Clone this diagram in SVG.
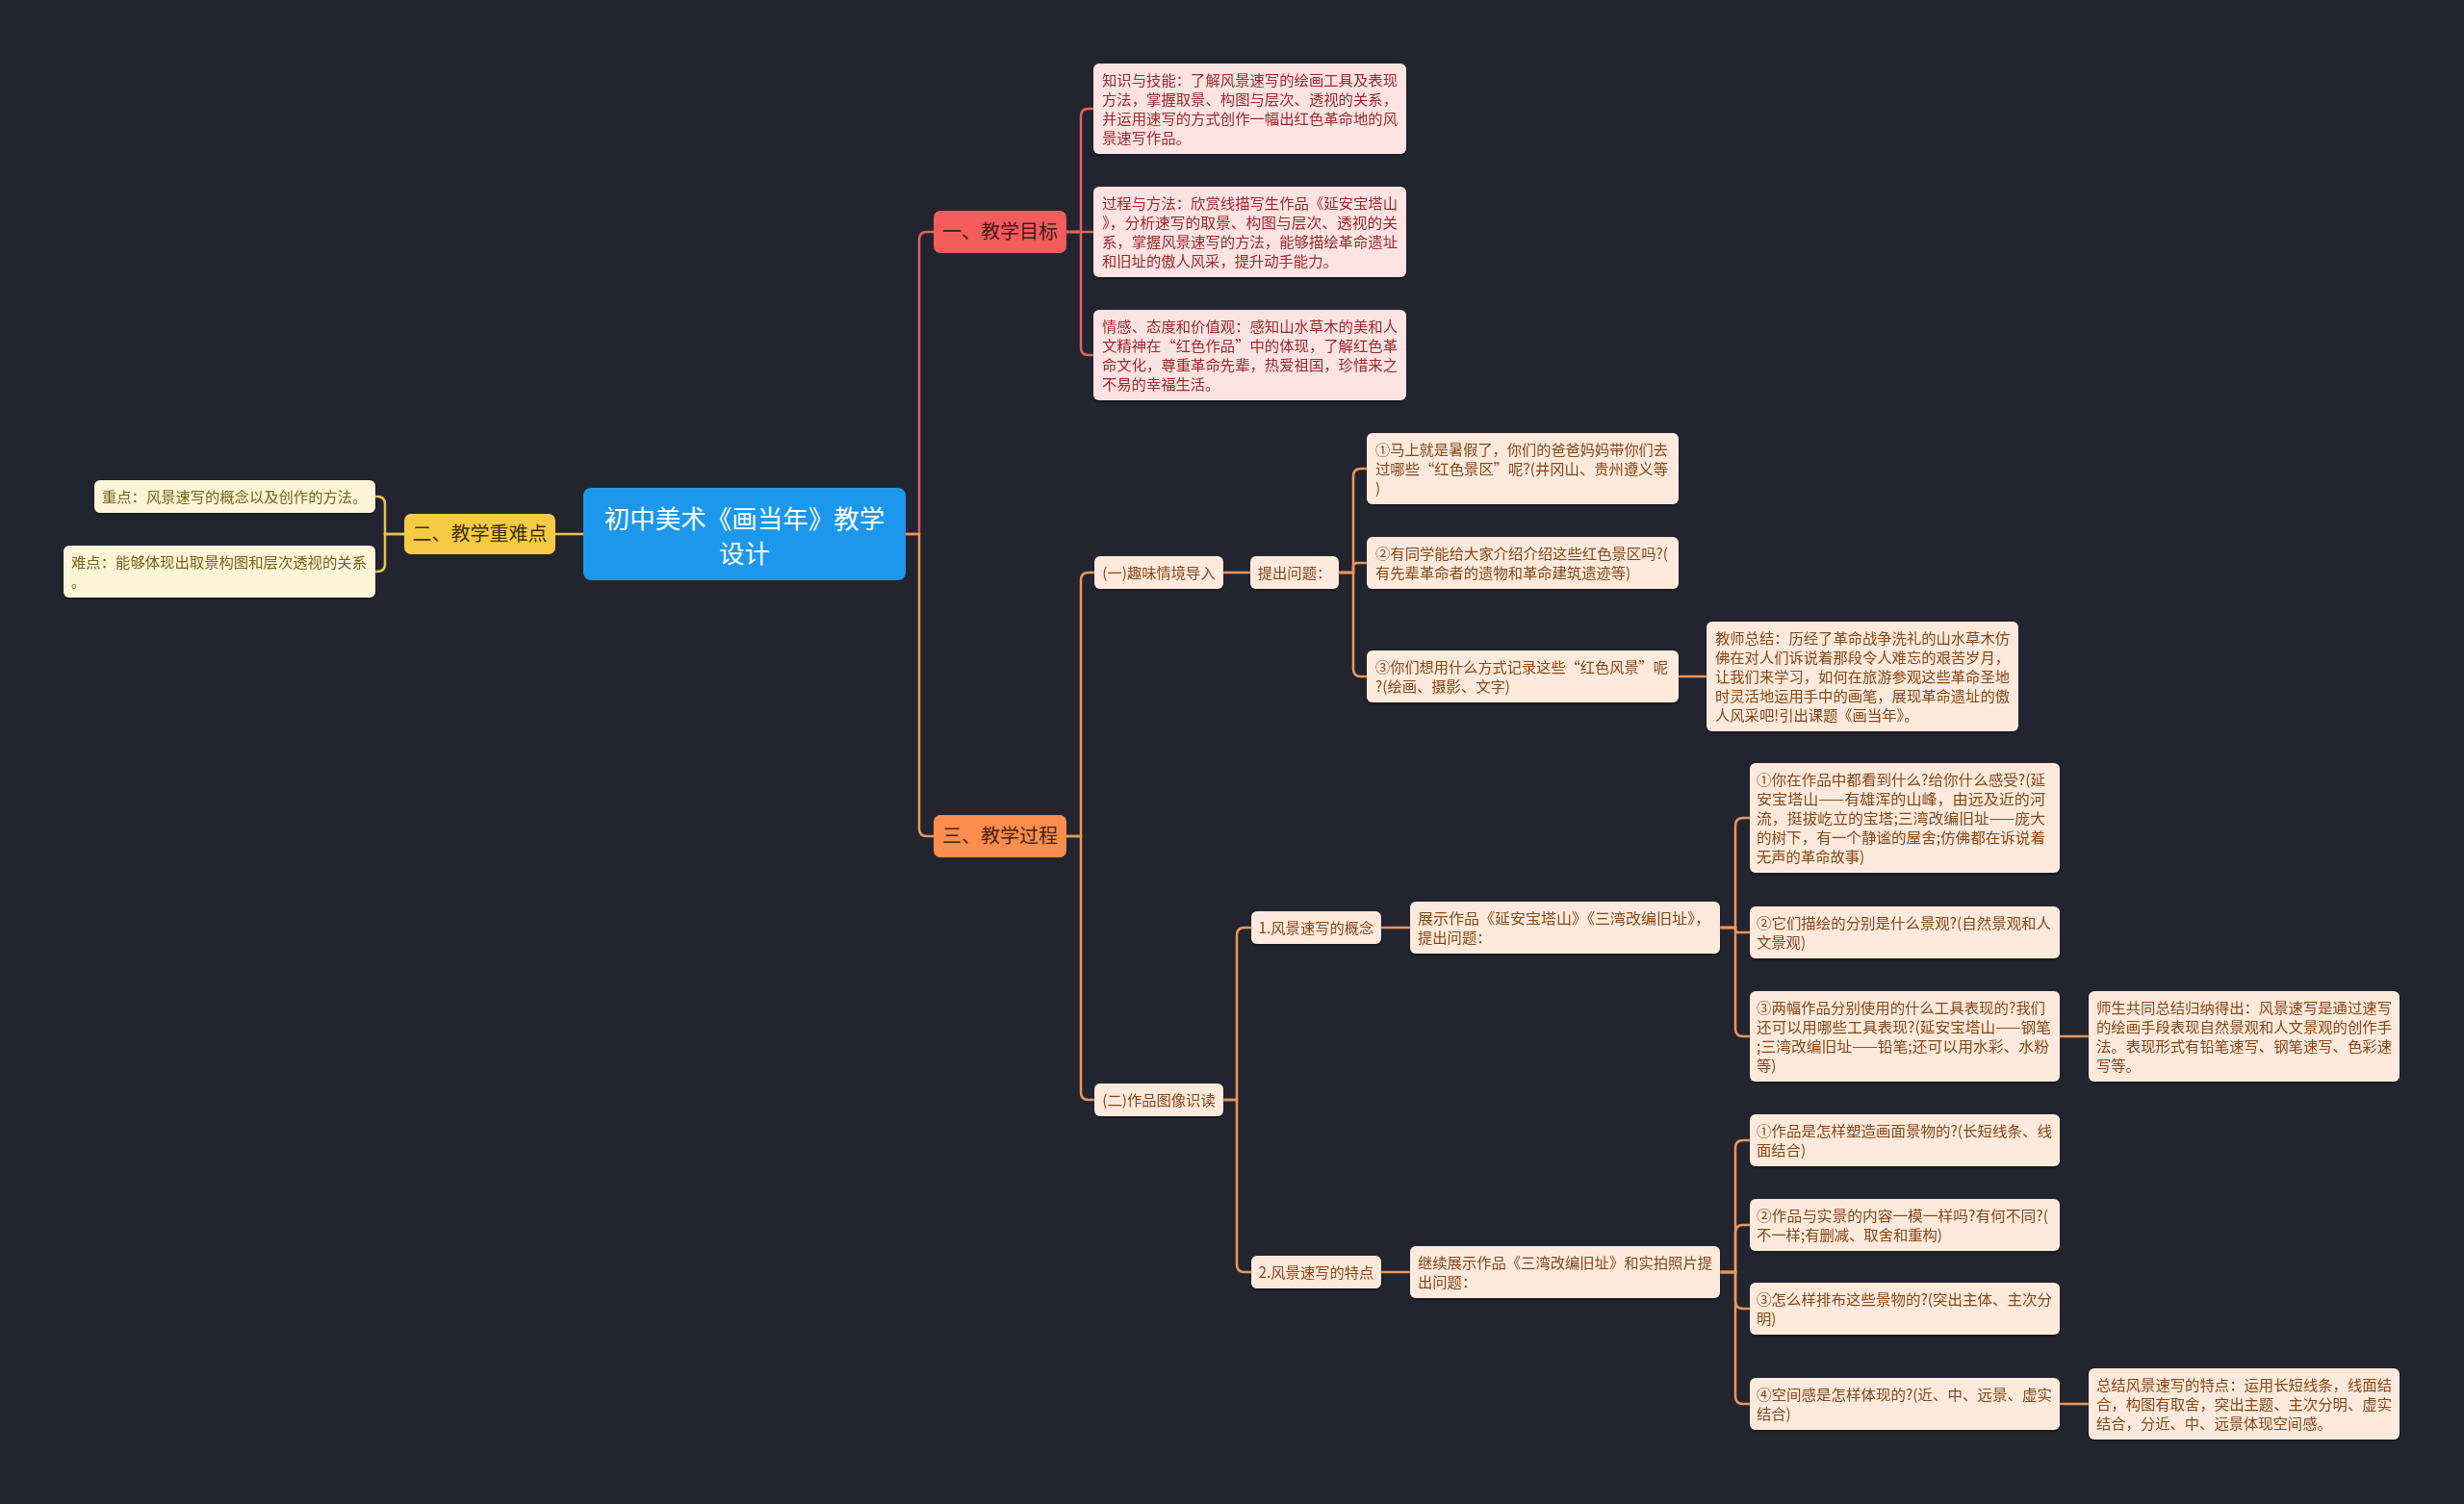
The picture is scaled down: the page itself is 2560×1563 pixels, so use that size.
<svg xmlns="http://www.w3.org/2000/svg" width="2560" height="1563" viewBox="0 0 2560 1563">
<defs>
<style>
text{font-family:"Noto Sans CJK SC","Noto Sans",sans-serif;}
.t{font-size:15.3px;}
.c{text-anchor:middle;}
.rb{fill:#fde3e2;}
.rt{fill:#9a2a2a;}
.ob{fill:#feeadc;}
.ot{fill:#874619;}
.yb{fill:#fef5d9;}
.yt{fill:#7a6213;}
.cr{fill:none;stroke:#e6615c;stroke-width:2.5;}
.co{fill:none;stroke:#ef9658;stroke-width:2.5;}
.cy{fill:none;stroke:#e9c34c;stroke-width:2.5;}
.sh{filter:url(#ds);}
</style>
<filter id="ds" x="-5%" y="-10%" width="110%" height="130%">
<feDropShadow dx="0" dy="1.5" stdDeviation="1" flood-color="#000" flood-opacity="0.45"/>
</filter>
</defs>
<rect width="2560" height="1563" fill="#222530"/>

<g id="connectors">
<path class="cy" d="M606,555 H577"/>
<path class="cy" d="M420,555 H400 V524 Q400,516 392,516 H390"/>
<path class="cy" d="M420,555 H400 V586 Q400,594 392,594 H390"/>
<path class="cr" d="M941,555 H955 V249 Q955,241 963,241 H970"/>
<path class="co" d="M941,555 H955 V861 Q955,869 963,869 H970"/>
<path class="cr" d="M1108,241 H1123 V121 Q1123,113 1131,113 H1136"/>
<path class="cr" d="M1108,241 H1136"/>
<path class="cr" d="M1108,241 H1123 V361 Q1123,369 1131,369 H1136"/>
<path class="co" d="M1108,869 H1123 V603 Q1123,595 1131,595 H1137"/>
<path class="co" d="M1108,869 H1123 V1135 Q1123,1143 1131,1143 H1137"/>
<path class="co" d="M1271,595 H1299"/>
<path class="co" d="M1391,595 H1406 V495 Q1406,487 1414,487 H1420"/>
<path class="co" d="M1391,595 H1406 V589 Q1406,585 1410,585 H1420"/>
<path class="co" d="M1391,595 H1406 V695 Q1406,703 1414,703 H1420"/>
<path class="co" d="M1744,703 H1773"/>
<path class="co" d="M1271,1143 H1285 V972 Q1285,964 1293,964 H1300"/>
<path class="co" d="M1271,1143 H1285 V1314 Q1285,1322 1293,1322 H1300"/>
<path class="co" d="M1435,964 H1465"/>
<path class="co" d="M1787,964 H1803 V858 Q1803,850 1811,850 H1818"/>
<path class="co" d="M1787,964 H1803 V966 Q1803,969 1806,969 H1818"/>
<path class="co" d="M1787,964 H1803 V1069 Q1803,1077 1811,1077 H1818"/>
<path class="co" d="M2140,1077 H2170"/>
<path class="co" d="M1435,1322 H1465"/>
<path class="co" d="M1787,1322 H1803 V1193 Q1803,1185 1811,1185 H1818"/>
<path class="co" d="M1787,1322 H1803 V1281 Q1803,1273 1811,1273 H1818"/>
<path class="co" d="M1787,1322 H1803 V1352 Q1803,1360 1811,1360 H1818"/>
<path class="co" d="M1787,1322 H1803 V1451 Q1803,1459 1811,1459 H1818"/>
<path class="co" d="M2140,1459 H2170"/>
</g>

<g id="root">
<rect x="606" y="507" width="335" height="96" rx="8" fill="#1b98ec"/>
<text x="773.5" y="549" class="c" font-size="26.5" fill="#ffffff">初中美术《画当年》教学</text>
<text x="773.5" y="585" class="c" font-size="26.5" fill="#ffffff">设计</text>
</g>

<g id="n-goal">
<rect x="970" y="219" width="138" height="44" rx="7" fill="#f35c5b"/>
<text x="1039" y="248" class="c" font-size="20" fill="#4a1818">一、教学目标</text>
</g>
<g id="n-key">
<rect x="420" y="534" width="157" height="42" rx="7" fill="#f7ca45"/>
<text x="498.5" y="562" class="c" font-size="20" fill="#3d3206">二、教学重难点</text>
</g>
<g id="n-proc">
<rect x="970" y="847" width="138" height="44" rx="7" fill="#fb8d4d"/>
<text x="1039" y="876" class="c" font-size="20" fill="#4a2410">三、教学过程</text>
</g>

<g id="n-key1" class="sh">
<rect class="yb" x="98" y="499" width="292" height="34" rx="6"/>
<text class="t yt" x="106" y="522">重点：风景速写的概念以及创作的方法。</text>
</g>
<g id="n-key2" class="sh">
<rect class="yb" x="66" y="567" width="324" height="54" rx="6"/>
<text class="t yt" x="74" y="590" textLength="307" lengthAdjust="spacingAndGlyphs">难点：能够体现出取景构图和层次透视的关系</text>
<text class="t yt" x="74" y="610">。</text>
</g>

<g id="n-goal1" class="sh">
<rect class="rb" x="1136" y="66" width="325" height="94" rx="6"/>
<text class="t rt" x="1145" y="89" textLength="307" lengthAdjust="spacingAndGlyphs">知识与技能：了解风景速写的绘画工具及表现</text>
<text class="t rt" x="1145" y="109" textLength="307" lengthAdjust="spacingAndGlyphs">方法，掌握取景、构图与层次、透视的关系，</text>
<text class="t rt" x="1145" y="129" textLength="307" lengthAdjust="spacingAndGlyphs">并运用速写的方式创作一幅出红色革命地的风</text>
<text class="t rt" x="1145" y="149">景速写作品。</text>
</g>
<g id="n-goal2" class="sh">
<rect class="rb" x="1136" y="194" width="325" height="94" rx="6"/>
<text class="t rt" x="1145" y="217" textLength="307" lengthAdjust="spacingAndGlyphs">过程与方法：欣赏线描写生作品《延安宝塔山</text>
<text class="t rt" x="1145" y="237" textLength="307" lengthAdjust="spacingAndGlyphs">》，分析速写的取景、构图与层次、透视的关</text>
<text class="t rt" x="1145" y="257" textLength="307" lengthAdjust="spacingAndGlyphs">系，掌握风景速写的方法，能够描绘革命遗址</text>
<text class="t rt" x="1145" y="277">和旧址的傲人风采，提升动手能力。</text>
</g>
<g id="n-goal3" class="sh">
<rect class="rb" x="1136" y="322" width="325" height="94" rx="6"/>
<text class="t rt" x="1145" y="345" textLength="307" lengthAdjust="spacingAndGlyphs">情感、态度和价值观：感知山水草木的美和人</text>
<text class="t rt" x="1145" y="365" textLength="307" lengthAdjust="spacingAndGlyphs">文精神在“红色作品”中的体现，了解红色革</text>
<text class="t rt" x="1145" y="385" textLength="307" lengthAdjust="spacingAndGlyphs">命文化，尊重革命先辈，热爱祖国，珍惜来之</text>
<text class="t rt" x="1145" y="405">不易的幸福生活。</text>
</g>

<g id="n-intro" class="sh">
<rect class="ob" x="1137" y="578" width="134" height="34" rx="6"/>
<text class="t ot c" x="1204" y="601">(一)趣味情境导入</text>
</g>
<g id="n-ask" class="sh">
<rect class="ob" x="1299" y="578" width="92" height="34" rx="6"/>
<text class="t ot c" x="1345" y="601">提出问题：</text>
</g>
<g id="n-q1" class="sh">
<rect class="ob" x="1420" y="450" width="324" height="74" rx="6"/>
<text class="t ot" x="1429" y="473" textLength="304" lengthAdjust="spacingAndGlyphs">①马上就是暑假了，你们的爸爸妈妈带你们去</text>
<text class="t ot" x="1429" y="493" textLength="304" lengthAdjust="spacingAndGlyphs">过哪些“红色景区”呢?(井冈山、贵州遵义等</text>
<text class="t ot" x="1429" y="513">)</text>
</g>
<g id="n-q2" class="sh">
<rect class="ob" x="1420" y="558" width="324" height="54" rx="6"/>
<text class="t ot" x="1429" y="581" textLength="304" lengthAdjust="spacingAndGlyphs">②有同学能给大家介绍介绍这些红色景区吗?(</text>
<text class="t ot" x="1429" y="601">有先辈革命者的遗物和革命建筑遗迹等)</text>
</g>
<g id="n-q3" class="sh">
<rect class="ob" x="1420" y="676" width="324" height="54" rx="6"/>
<text class="t ot" x="1429" y="699" textLength="304" lengthAdjust="spacingAndGlyphs">③你们想用什么方式记录这些“红色风景”呢</text>
<text class="t ot" x="1429" y="719">?(绘画、摄影、文字)</text>
</g>
<g id="n-sum1" class="sh">
<rect class="ob" x="1773" y="646" width="324" height="114" rx="6"/>
<text class="t ot" x="1782" y="669" textLength="306" lengthAdjust="spacingAndGlyphs">教师总结：历经了革命战争洗礼的山水草木仿</text>
<text class="t ot" x="1782" y="689" textLength="306" lengthAdjust="spacingAndGlyphs">佛在对人们诉说着那段令人难忘的艰苦岁月，</text>
<text class="t ot" x="1782" y="709" textLength="306" lengthAdjust="spacingAndGlyphs">让我们来学习，如何在旅游参观这些革命圣地</text>
<text class="t ot" x="1782" y="729" textLength="306" lengthAdjust="spacingAndGlyphs">时灵活地运用手中的画笔，展现革命遗址的傲</text>
<text class="t ot" x="1782" y="749">人风采吧!引出课题《画当年》。</text>
</g>

<g id="n-read" class="sh">
<rect class="ob" x="1137" y="1126" width="134" height="34" rx="6"/>
<text class="t ot c" x="1204" y="1149">(二)作品图像识读</text>
</g>
<g id="n-concept" class="sh">
<rect class="ob" x="1300" y="947" width="135" height="34" rx="6"/>
<text class="t ot c" x="1367.5" y="970">1.风景速写的概念</text>
</g>
<g id="n-show" class="sh">
<rect class="ob" x="1465" y="937" width="322" height="54" rx="6"/>
<text class="t ot" x="1473" y="960" textLength="304" lengthAdjust="spacingAndGlyphs">展示作品《延安宝塔山》《三湾改编旧址》，</text>
<text class="t ot" x="1473" y="980">提出问题：</text>
</g>
<g id="n-c1" class="sh">
<rect class="ob" x="1818" y="793" width="322" height="114" rx="6"/>
<text class="t ot" x="1825" y="816" textLength="300" lengthAdjust="spacingAndGlyphs">①你在作品中都看到什么?给你什么感受?(延</text>
<text class="t ot" x="1825" y="836" textLength="300" lengthAdjust="spacingAndGlyphs">安宝塔山——有雄浑的山峰，由远及近的河</text>
<text class="t ot" x="1825" y="856" textLength="300" lengthAdjust="spacingAndGlyphs">流，挺拔屹立的宝塔;三湾改编旧址——庞大</text>
<text class="t ot" x="1825" y="876" textLength="300" lengthAdjust="spacingAndGlyphs">的树下，有一个静谧的屋舍;仿佛都在诉说着</text>
<text class="t ot" x="1825" y="896">无声的革命故事)</text>
</g>
<g id="n-c2" class="sh">
<rect class="ob" x="1818" y="942" width="322" height="54" rx="6"/>
<text class="t ot" x="1825" y="965" textLength="306" lengthAdjust="spacingAndGlyphs">②它们描绘的分别是什么景观?(自然景观和人</text>
<text class="t ot" x="1825" y="985">文景观)</text>
</g>
<g id="n-c3" class="sh">
<rect class="ob" x="1818" y="1030" width="322" height="94" rx="6"/>
<text class="t ot" x="1825" y="1053" textLength="300" lengthAdjust="spacingAndGlyphs">③两幅作品分别使用的什么工具表现的?我们</text>
<text class="t ot" x="1825" y="1073" textLength="306" lengthAdjust="spacingAndGlyphs">还可以用哪些工具表现?(延安宝塔山——钢笔</text>
<text class="t ot" x="1825" y="1093" textLength="304" lengthAdjust="spacingAndGlyphs">;三湾改编旧址——铅笔;还可以用水彩、水粉</text>
<text class="t ot" x="1825" y="1113">等)</text>
</g>
<g id="n-sum2" class="sh">
<rect class="ob" x="2170" y="1030" width="323" height="94" rx="6"/>
<text class="t ot" x="2178" y="1053" textLength="307" lengthAdjust="spacingAndGlyphs">师生共同总结归纳得出：风景速写是通过速写</text>
<text class="t ot" x="2178" y="1073" textLength="307" lengthAdjust="spacingAndGlyphs">的绘画手段表现自然景观和人文景观的创作手</text>
<text class="t ot" x="2178" y="1093" textLength="307" lengthAdjust="spacingAndGlyphs">法。表现形式有铅笔速写、钢笔速写、色彩速</text>
<text class="t ot" x="2178" y="1113">写等。</text>
</g>

<g id="n-feature" class="sh">
<rect class="ob" x="1300" y="1305" width="135" height="34" rx="6"/>
<text class="t ot c" x="1367.5" y="1328">2.风景速写的特点</text>
</g>
<g id="n-cont" class="sh">
<rect class="ob" x="1465" y="1295" width="322" height="54" rx="6"/>
<text class="t ot" x="1473" y="1318" textLength="306" lengthAdjust="spacingAndGlyphs">继续展示作品《三湾改编旧址》和实拍照片提</text>
<text class="t ot" x="1473" y="1338">出问题：</text>
</g>
<g id="n-f1" class="sh">
<rect class="ob" x="1818" y="1158" width="322" height="54" rx="6"/>
<text class="t ot" x="1825" y="1181" textLength="307" lengthAdjust="spacingAndGlyphs">①作品是怎样塑造画面景物的?(长短线条、线</text>
<text class="t ot" x="1825" y="1201">面结合)</text>
</g>
<g id="n-f2" class="sh">
<rect class="ob" x="1818" y="1246" width="322" height="54" rx="6"/>
<text class="t ot" x="1825" y="1269" textLength="303" lengthAdjust="spacingAndGlyphs">②作品与实景的内容一模一样吗?有何不同?(</text>
<text class="t ot" x="1825" y="1289">不一样;有删减、取舍和重构)</text>
</g>
<g id="n-f3" class="sh">
<rect class="ob" x="1818" y="1333" width="322" height="54" rx="6"/>
<text class="t ot" x="1825" y="1356" textLength="307" lengthAdjust="spacingAndGlyphs">③怎么样排布这些景物的?(突出主体、主次分</text>
<text class="t ot" x="1825" y="1376">明)</text>
</g>
<g id="n-f4" class="sh">
<rect class="ob" x="1818" y="1432" width="322" height="54" rx="6"/>
<text class="t ot" x="1825" y="1455" textLength="307" lengthAdjust="spacingAndGlyphs">④空间感是怎样体现的?(近、中、远景、虚实</text>
<text class="t ot" x="1825" y="1475">结合)</text>
</g>
<g id="n-sum3" class="sh">
<rect class="ob" x="2170" y="1422" width="323" height="74" rx="6"/>
<text class="t ot" x="2178" y="1445" textLength="307" lengthAdjust="spacingAndGlyphs">总结风景速写的特点：运用长短线条，线面结</text>
<text class="t ot" x="2178" y="1465" textLength="307" lengthAdjust="spacingAndGlyphs">合，构图有取舍，突出主题、主次分明、虚实</text>
<text class="t ot" x="2178" y="1485">结合，分近、中、远景体现空间感。</text>
</g>
</svg>
